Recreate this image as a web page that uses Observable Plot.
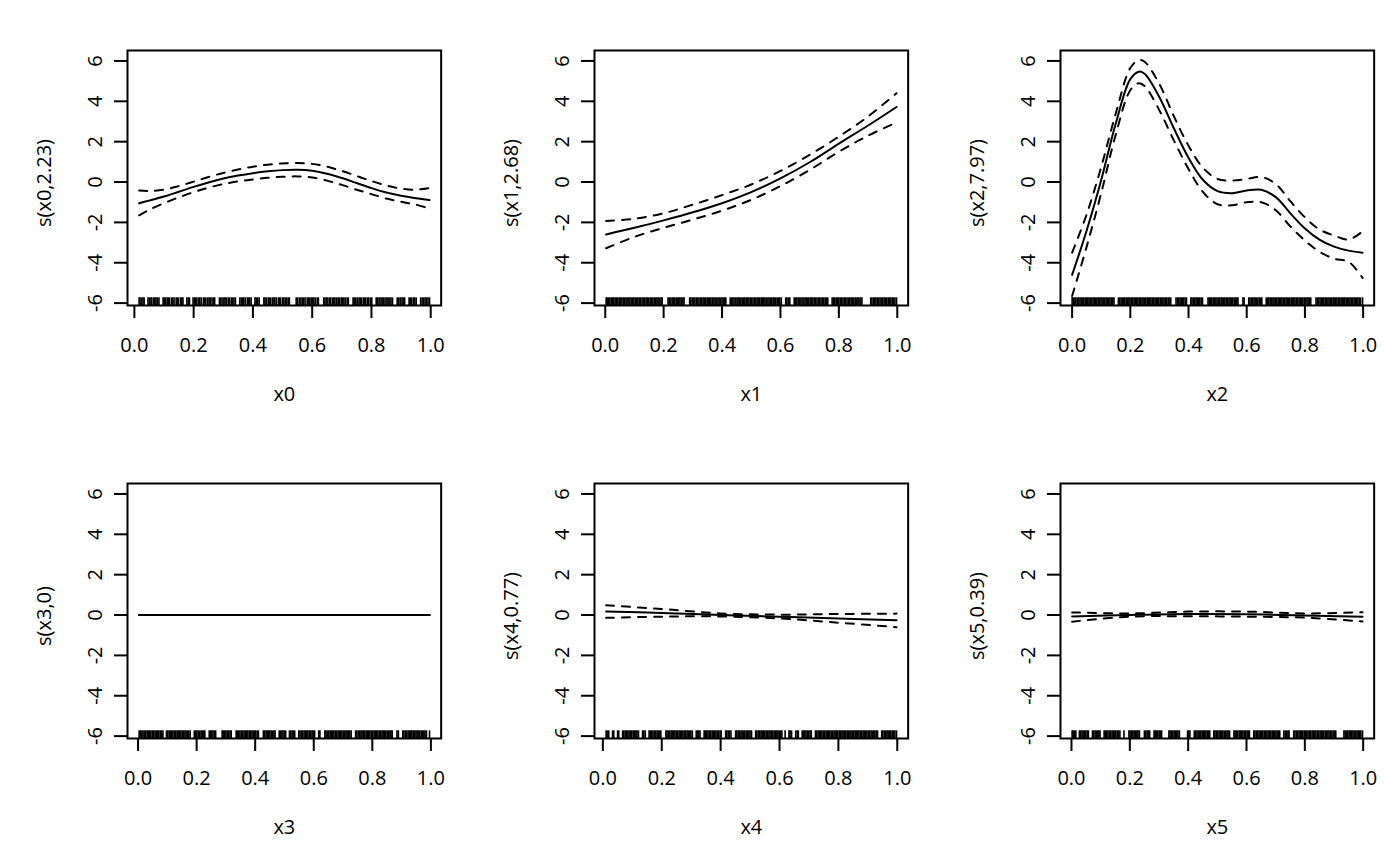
<!DOCTYPE html>
<html><head><meta charset="utf-8">
<script src="https://cdn.jsdelivr.net/npm/d3@7"></script>
<script src="https://cdn.jsdelivr.net/npm/@observablehq/plot@0.6"></script>
<style>
html,body{margin:0;padding:0;background:#fff;}
#wrap{position:relative;width:1400px;height:866px;overflow:hidden;}
#wrap > svg{position:absolute;}
</style></head><body><div id="wrap"></div>
<script>
// ---- tick labels / titles ----
const xTicks = [0, 0.2, 0.4, 0.6, 0.8, 1.0];
const yTicks = [-6, -4, -2, 0, 2, 4, 6];
const xTitles = ["x0", "x1", "x2", "x3", "x4", "x5"];
const yTitles = ["s(x0,2.23)", "s(x1,2.68)", "s(x2,7.97)", "s(x3,0)", "s(x4,0.77)", "s(x5,0.39)"];

// ---- smooth x0 ----
const x0Grid  = [0.016, 0.05, 0.1, 0.15, 0.2, 0.25, 0.3, 0.35, 0.4, 0.45, 0.5, 0.55, 0.6, 0.65, 0.7, 0.75, 0.8, 0.85, 0.9, 0.95, 0.996];
const x0Fit   = [-1.05, -0.92, -0.72, -0.48, -0.24, -0.02, 0.17, 0.32, 0.44, 0.53, 0.59, 0.61, 0.56, 0.41, 0.2, -0.05, -0.3, -0.52, -0.68, -0.8, -0.89];
const x0Upper = [-0.42, -0.44, -0.38, -0.2, 0.02, 0.25, 0.45, 0.62, 0.76, 0.86, 0.92, 0.94, 0.9, 0.76, 0.55, 0.3, 0.05, -0.17, -0.33, -0.38, -0.3];
const x0Lower = [-1.65, -1.38, -1.05, -0.76, -0.5, -0.28, -0.1, 0.03, 0.13, 0.21, 0.26, 0.28, 0.23, 0.07, -0.14, -0.38, -0.6, -0.82, -0.98, -1.12, -1.32];
const x0Rug = [0.016,0.019,0.024,0.029,0.033,0.046,0.051,0.056,0.058,0.064,0.069,0.073,0.078,0.083,0.097,0.101,0.106,0.111,0.114,0.119,0.126,0.129,0.134,0.141,0.145,0.149,0.156,0.16,0.164,0.177,0.182,0.186,0.198,0.203,0.206,0.211,0.217,0.221,0.226,0.233,0.236,0.241,0.247,0.252,0.256,0.262,0.267,0.271,0.287,0.291,0.296,0.302,0.306,0.311,0.317,0.321,0.327,0.331,0.336,0.341,0.356,0.361,0.366,0.369,0.374,0.381,0.384,0.389,0.394,0.407,0.411,0.416,0.421,0.437,0.441,0.446,0.452,0.455,0.46,0.466,0.471,0.474,0.479,0.486,0.489,0.494,0.501,0.504,0.509,0.514,0.519,0.523,0.546,0.551,0.557,0.562,0.567,0.571,0.576,0.583,0.587,0.592,0.597,0.602,0.606,0.611,0.617,0.621,0.639,0.643,0.648,0.653,0.659,0.662,0.668,0.673,0.677,0.683,0.688,0.692,0.698,0.702,0.707,0.712,0.718,0.722,0.738,0.742,0.747,0.752,0.758,0.762,0.767,0.773,0.776,0.781,0.787,0.791,0.797,0.801,0.816,0.821,0.826,0.832,0.836,0.841,0.846,0.852,0.856,0.861,0.866,0.871,0.887,0.892,0.897,0.903,0.907,0.912,0.927,0.931,0.936,0.942,0.946,0.951,0.966,0.971,0.976,0.981,0.986,0.991,0.996];

// ---- smooth x1 ----
const x1Grid  = [0.003, 0.1, 0.2, 0.3, 0.4, 0.5, 0.6, 0.7, 0.8, 0.9, 0.9975];
const x1Fit   = [-2.6, -2.27, -1.9, -1.5, -1.05, -0.5, 0.18, 0.98, 1.9, 2.8, 3.72];
const x1Upper = [-1.93, -1.82, -1.55, -1.12, -0.65, -0.12, 0.55, 1.35, 2.25, 3.25, 4.4];
const x1Lower = [-3.28, -2.72, -2.27, -1.86, -1.42, -0.88, -0.2, 0.6, 1.5, 2.3, 2.95];
const x1Rug = [0.003,0.007,0.012,0.016,0.021,0.026,0.029,0.034,0.039,0.043,0.048,0.052,0.057,0.062,0.066,0.071,0.075,0.081,0.084,0.089,0.094,0.098,0.103,0.108,0.112,0.117,0.121,0.126,0.131,0.135,0.14,0.144,0.149,0.154,0.158,0.163,0.168,0.172,0.177,0.181,0.186,0.191,0.195,0.215,0.219,0.224,0.229,0.233,0.238,0.243,0.247,0.252,0.256,0.261,0.266,0.27,0.289,0.293,0.298,0.302,0.307,0.312,0.316,0.321,0.326,0.33,0.335,0.339,0.344,0.349,0.353,0.358,0.362,0.367,0.372,0.376,0.381,0.386,0.39,0.395,0.4,0.404,0.409,0.413,0.428,0.432,0.437,0.441,0.446,0.451,0.455,0.46,0.464,0.469,0.474,0.478,0.483,0.487,0.492,0.497,0.501,0.506,0.511,0.515,0.52,0.524,0.529,0.534,0.538,0.543,0.547,0.552,0.557,0.561,0.566,0.57,0.575,0.58,0.584,0.589,0.594,0.598,0.603,0.618,0.622,0.627,0.632,0.647,0.651,0.656,0.661,0.665,0.67,0.674,0.679,0.684,0.688,0.693,0.697,0.702,0.707,0.711,0.716,0.72,0.725,0.73,0.734,0.739,0.744,0.748,0.753,0.757,0.762,0.777,0.782,0.786,0.791,0.796,0.8,0.805,0.809,0.814,0.819,0.823,0.828,0.833,0.837,0.842,0.846,0.851,0.856,0.86,0.865,0.869,0.874,0.879,0.909,0.913,0.918,0.923,0.927,0.932,0.936,0.941,0.946,0.95,0.955,0.96,0.964,0.969,0.973,0.978,0.983,0.987,0.992,0.9975];

// ---- smooth x2 ----
const x2Grid  = [0.0, 0.05, 0.1, 0.15, 0.2, 0.23, 0.25, 0.3, 0.35, 0.4, 0.45, 0.5, 0.55, 0.6, 0.65, 0.7, 0.75, 0.8, 0.85, 0.9, 0.95, 0.998];
const x2Fit   = [-4.6, -2.4, 0.1, 2.9, 5.1, 5.47, 5.35, 4.2, 2.65, 1.2, 0.1, -0.45, -0.55, -0.42, -0.38, -0.75, -1.55, -2.3, -2.85, -3.2, -3.4, -3.5];
const x2Upper = [-3.5, -1.6, 0.75, 3.4, 5.65, 6.05, 5.95, 4.85, 3.25, 1.8, 0.7, 0.15, 0.08, 0.15, 0.25, -0.1, -0.95, -1.75, -2.35, -2.65, -2.85, -2.45];
const x2Lower = [-5.65, -3.2, -0.55, 2.35, 4.55, 4.9, 4.75, 3.55, 2.05, 0.65, -0.5, -1.1, -1.15, -1.0, -1.0, -1.4, -2.2, -2.9, -3.45, -3.8, -3.95, -4.75];
const x2Rug = [0.0,0.004,0.009,0.013,0.018,0.022,0.027,0.031,0.036,0.04,0.045,0.049,0.054,0.058,0.063,0.067,0.072,0.076,0.081,0.085,0.09,0.094,0.099,0.103,0.108,0.112,0.117,0.121,0.126,0.13,0.135,0.139,0.144,0.159,0.163,0.168,0.172,0.177,0.181,0.186,0.19,0.195,0.199,0.204,0.208,0.213,0.217,0.222,0.226,0.231,0.235,0.24,0.244,0.249,0.253,0.258,0.262,0.267,0.271,0.276,0.28,0.285,0.289,0.294,0.298,0.303,0.307,0.312,0.316,0.321,0.325,0.33,0.334,0.339,0.357,0.362,0.366,0.371,0.375,0.38,0.384,0.389,0.393,0.408,0.412,0.417,0.421,0.426,0.43,0.435,0.439,0.444,0.448,0.467,0.471,0.476,0.48,0.485,0.489,0.494,0.498,0.503,0.507,0.512,0.516,0.521,0.525,0.53,0.534,0.539,0.543,0.548,0.552,0.557,0.561,0.566,0.57,0.587,0.591,0.607,0.611,0.616,0.62,0.625,0.629,0.634,0.638,0.643,0.647,0.652,0.667,0.672,0.676,0.681,0.685,0.69,0.694,0.699,0.703,0.708,0.712,0.717,0.721,0.726,0.73,0.735,0.739,0.744,0.748,0.753,0.757,0.762,0.766,0.771,0.775,0.78,0.784,0.789,0.793,0.798,0.802,0.807,0.811,0.816,0.82,0.838,0.843,0.847,0.852,0.856,0.861,0.865,0.87,0.874,0.879,0.883,0.888,0.892,0.897,0.901,0.906,0.91,0.915,0.919,0.924,0.928,0.933,0.937,0.942,0.946,0.951,0.955,0.96,0.964,0.969,0.973,0.978,0.982,0.987,0.991,0.998];

// ---- smooth x3 ----
const x3Grid  = [0.0036, 0.5, 0.9954];
const x3Fit   = [0, 0, 0];
const x3Upper = [0, 0, 0];
const x3Lower = [0, 0, 0];
const x3Rug = [0.0036,0.008,0.013,0.017,0.022,0.026,0.031,0.035,0.04,0.044,0.049,0.053,0.058,0.062,0.067,0.071,0.076,0.08,0.085,0.097,0.101,0.106,0.11,0.115,0.119,0.124,0.128,0.133,0.137,0.142,0.146,0.151,0.155,0.16,0.164,0.169,0.173,0.178,0.192,0.197,0.201,0.206,0.21,0.215,0.219,0.224,0.228,0.243,0.247,0.252,0.256,0.261,0.265,0.287,0.291,0.296,0.3,0.305,0.309,0.314,0.318,0.335,0.339,0.344,0.348,0.353,0.357,0.362,0.366,0.371,0.375,0.38,0.384,0.389,0.393,0.398,0.402,0.407,0.411,0.428,0.432,0.437,0.441,0.446,0.45,0.455,0.459,0.464,0.468,0.482,0.486,0.491,0.495,0.5,0.504,0.517,0.521,0.526,0.53,0.535,0.549,0.553,0.558,0.562,0.567,0.571,0.576,0.58,0.585,0.589,0.594,0.598,0.603,0.617,0.621,0.638,0.642,0.647,0.651,0.656,0.66,0.665,0.669,0.674,0.678,0.683,0.687,0.692,0.696,0.701,0.705,0.71,0.714,0.719,0.723,0.728,0.743,0.747,0.752,0.756,0.761,0.765,0.77,0.774,0.779,0.783,0.788,0.792,0.797,0.801,0.806,0.81,0.815,0.819,0.824,0.828,0.833,0.837,0.842,0.846,0.851,0.855,0.86,0.864,0.868,0.884,0.889,0.904,0.908,0.913,0.917,0.922,0.926,0.931,0.935,0.94,0.944,0.949,0.953,0.958,0.962,0.967,0.971,0.976,0.98,0.985,0.9954];

// ---- smooth x4 ----
const x4Grid  = [0.011, 0.2, 0.4, 0.6, 0.8, 0.9975];
const x4Fit   = [0.18, 0.1, 0.0, -0.08, -0.17, -0.26];
const x4Upper = [0.48, 0.3, 0.08, 0.02, 0.05, 0.07];
const x4Lower = [-0.14, -0.08, -0.07, -0.17, -0.38, -0.6];
const x4Rug = [0.011,0.016,0.02,0.033,0.037,0.05,0.054,0.067,0.071,0.076,0.08,0.085,0.089,0.094,0.098,0.103,0.107,0.112,0.116,0.121,0.135,0.139,0.144,0.157,0.161,0.166,0.17,0.175,0.179,0.184,0.188,0.193,0.197,0.214,0.218,0.223,0.227,0.232,0.236,0.241,0.245,0.25,0.254,0.259,0.263,0.268,0.272,0.277,0.281,0.286,0.29,0.295,0.299,0.304,0.317,0.321,0.326,0.33,0.344,0.348,0.353,0.357,0.362,0.366,0.371,0.375,0.38,0.384,0.389,0.393,0.398,0.402,0.417,0.421,0.426,0.43,0.435,0.451,0.455,0.46,0.464,0.469,0.473,0.478,0.482,0.487,0.491,0.496,0.5,0.505,0.519,0.523,0.528,0.532,0.537,0.541,0.546,0.55,0.555,0.559,0.564,0.568,0.573,0.577,0.582,0.586,0.591,0.595,0.6,0.604,0.608,0.619,0.632,0.636,0.641,0.655,0.66,0.664,0.677,0.681,0.686,0.69,0.695,0.699,0.704,0.708,0.722,0.726,0.731,0.735,0.74,0.744,0.749,0.753,0.758,0.762,0.767,0.771,0.776,0.78,0.785,0.789,0.794,0.798,0.803,0.807,0.812,0.816,0.821,0.825,0.83,0.834,0.839,0.843,0.848,0.852,0.857,0.861,0.866,0.87,0.875,0.879,0.884,0.888,0.893,0.897,0.902,0.906,0.911,0.915,0.92,0.924,0.929,0.933,0.947,0.951,0.956,0.96,0.965,0.969,0.974,0.978,0.983,0.987,0.992,0.9975];

// ---- smooth x5 ----
const x5Grid  = [0.0022, 0.2, 0.4, 0.6, 0.8, 0.9978];
const x5Fit   = [-0.07, 0.0, 0.05, 0.04, -0.02, -0.08];
const x5Upper = [0.13, 0.08, 0.17, 0.17, 0.08, 0.14];
const x5Lower = [-0.33, -0.08, -0.06, -0.08, -0.13, -0.32];
const x5Rug = [0.0022,0.006,0.011,0.015,0.027,0.031,0.036,0.04,0.045,0.049,0.054,0.058,0.072,0.076,0.081,0.085,0.09,0.094,0.098,0.112,0.116,0.121,0.125,0.13,0.134,0.139,0.143,0.148,0.152,0.157,0.161,0.166,0.18,0.197,0.201,0.206,0.21,0.215,0.219,0.224,0.228,0.233,0.25,0.254,0.259,0.263,0.268,0.283,0.287,0.292,0.296,0.301,0.305,0.309,0.334,0.338,0.343,0.347,0.352,0.356,0.361,0.365,0.37,0.398,0.402,0.406,0.421,0.425,0.43,0.434,0.439,0.443,0.448,0.452,0.457,0.461,0.466,0.47,0.474,0.488,0.492,0.497,0.501,0.506,0.51,0.515,0.519,0.524,0.528,0.533,0.537,0.542,0.557,0.561,0.566,0.57,0.575,0.579,0.584,0.588,0.593,0.597,0.602,0.606,0.61,0.625,0.629,0.634,0.638,0.643,0.647,0.652,0.656,0.661,0.665,0.67,0.674,0.679,0.683,0.688,0.692,0.697,0.701,0.706,0.71,0.714,0.728,0.733,0.737,0.742,0.746,0.762,0.766,0.771,0.775,0.78,0.784,0.789,0.793,0.798,0.802,0.807,0.811,0.816,0.82,0.825,0.829,0.834,0.838,0.843,0.847,0.852,0.856,0.861,0.865,0.87,0.874,0.879,0.883,0.888,0.892,0.897,0.901,0.906,0.934,0.938,0.943,0.947,0.952,0.956,0.961,0.965,0.97,0.974,0.979,0.983,0.988,0.992,0.9978];

// ---- assemble panels ----
const panels = [
  {grid: x0Grid, fit: x0Fit, up: x0Upper, lo: x0Lower, rug: x0Rug},
  {grid: x1Grid, fit: x1Fit, up: x1Upper, lo: x1Lower, rug: x1Rug},
  {grid: x2Grid, fit: x2Fit, up: x2Upper, lo: x2Lower, rug: x2Rug},
  {grid: x3Grid, fit: x3Fit, up: x3Upper, lo: x3Lower, rug: x3Rug},
  {grid: x4Grid, fit: x4Fit, up: x4Upper, lo: x4Lower, rug: x4Rug},
  {grid: x5Grid, fit: x5Fit, up: x5Upper, lo: x5Lower, rug: x5Rug}
];

// common y range (range of all bands, R-style 4% extension)
const allY = panels.flatMap(p => [...p.up, ...p.lo]);
const yr = d3.extent(allY);
const yPad = 0.04 * (yr[1] - yr[0]);
const yDomain = [yr[0] - yPad, yr[1] + yPad];
const rugTop = yDomain[0] + 0.03 * (yDomain[1] - yDomain[0]);

const W = 1400 / 3, H = 433;
const wrap = document.getElementById("wrap");

panels.forEach((p, i) => {
  const rows = p.grid.map((x, k) => ({x, fit: p.fit[k], up: p.up[k], lo: p.lo[k]}));
  const xr = d3.extent(p.rug);
  const xPad = 0.04 * (xr[1] - xr[0]);
  const chart = Plot.plot({
    width: W, height: H,
    marginLeft: 127, marginRight: 26, marginTop: 50, marginBottom: 128,
    x: {domain: [xr[0] - xPad, xr[1] + xPad]},
    y: {domain: yDomain},
    style: {fontFamily: "'Open Sans', sans-serif", fontSize: "20px", color: "black", background: "transparent"},
    marks: [
      Plot.ruleX(p.rug, {x: d => d, y1: yDomain[0], y2: rugTop, stroke: "black", strokeWidth: 1.6}),
      Plot.line(rows, {x: "x", y: "up", stroke: "black", strokeWidth: 2, strokeDasharray: "8,8", curve: "catmull-rom"}),
      Plot.line(rows, {x: "x", y: "lo", stroke: "black", strokeWidth: 2, strokeDasharray: "8,8", curve: "catmull-rom"}),
      Plot.line(rows, {x: "x", y: "fit", stroke: "black", strokeWidth: 2, curve: "catmull-rom"}),
      Plot.frame({stroke: "black", strokeWidth: 2}),
      Plot.axisX({ticks: xTicks, tickSize: 13, tickPadding: 19, tickFormat: d => d.toFixed(1), strokeWidth: 2, fontSize: 20, label: null}),
      Plot.axisY({ticks: yTicks, tickSize: 13, tickPadding: 12, tickRotate: -90, tickFormat: d => String(d), strokeWidth: 2, fontSize: 20, label: null}),
      Plot.text([xTitles[i]], {text: d => d, frameAnchor: "bottom", dy: 96, fontSize: 20}),
      Plot.text([yTitles[i]], {text: d => d, frameAnchor: "left", textAnchor: "middle", rotate: -90, dx: -83, dy: 5, fontSize: 20})
    ]
  });
  chart.style.left = ((i % 3) * W) + "px";
  chart.style.top = (Math.floor(i / 3) * H) + "px";
  wrap.appendChild(chart);
});
</script>
</body></html>
